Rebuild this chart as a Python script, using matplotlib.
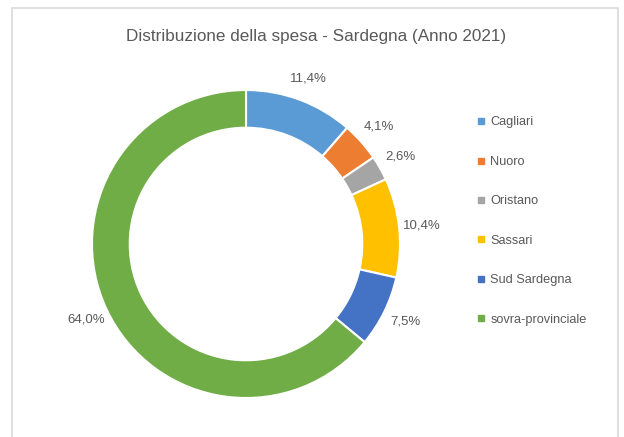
import matplotlib
matplotlib.use('Agg')
from matplotlib import pyplot as plt
from matplotlib.lines import Line2D
from matplotlib.patches import Rectangle

provinces = ['Cagliari', 'Nuoro', 'Oristano', 'Sassari', 'Sud Sardegna', 'sovra-provinciale']
shares = [11.4, 4.1, 2.6, 10.4, 7.5, 64.0]
colors = ['#5B9BD5', '#ED7D31', '#A5A5A5', '#FFC000', '#4472C4', '#70AD47']
title = 'Distribuzione della spesa - Sardegna (Anno 2021)'

plt.rcParams['font.family'] = ['Liberation Sans', 'DejaVu Sans']
txt = '#595959'

fig = plt.figure(figsize=(6.24, 4.37), dpi=100)
fig.patches.append(Rectangle((12 / 624, -0.05), 606 / 624, 1 - 8 / 437 + 0.05,
                             transform=fig.transFigure, fill=False,
                             edgecolor='#D9D9D9', linewidth=1.2))

ax = fig.add_axes([92 / 624, 39 / 437, 308 / 624, 308 / 437])
wedges, texts = ax.pie(shares, colors=colors, startangle=90, counterclock=False,
                       radius=1.0, wedgeprops=dict(width=0.245, edgecolor='white', linewidth=1.5),
                       labels=[f'{v:.1f}%'.replace('.', ',') for v in shares],
                       labeldistance=1.15,
                       textprops=dict(color=txt, fontsize=9.5))
for t in texts:
    t.set_ha('center')
    t.set_va('center')
ax.set_xlim(-1, 1)
ax.set_ylim(-1, 1)

fig.text(316 / 624, 1 - 36 / 437, title, ha='center', va='center', fontsize=12.3, color=txt)

handles = [Line2D([], [], marker='s', linestyle='none', markersize=4.5,
                  markerfacecolor=c, markeredgecolor=c) for c in colors]
fig.legend(handles, provinces, loc='upper left', bbox_to_anchor=(466 / 624, 1 - 105 / 437),
           frameon=False, fontsize=9.2, labelcolor=txt, handlelength=0.6,
           handletextpad=0.4, labelspacing=2.15)

fig.savefig('out.png', dpi=100)
